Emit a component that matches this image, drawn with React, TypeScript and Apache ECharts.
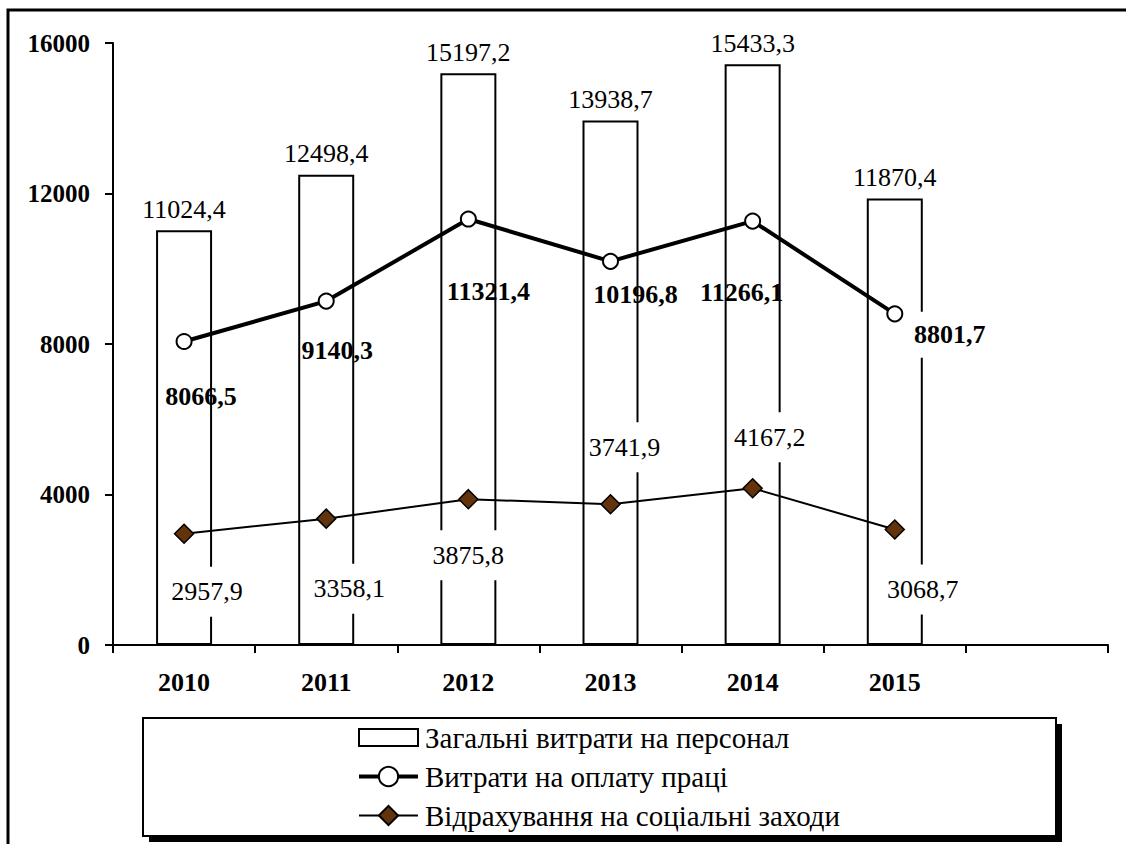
import React, { useEffect, useRef } from "react";
import * as echarts from "echarts";

// ---- data ----
const categories = ["2010", "2011", "2012", "2013", "2014", "2015", ""];
const seriesNames = [
  "Загальні витрати на персонал",
  "Витрати на оплату праці",
  "Відрахування на соціальні заходи",
];
const totalCosts = [11024.4, 12498.4, 15197.2, 13938.7, 15433.3, 11870.4];
const laborCosts = [8066.5, 9140.3, 11321.4, 10196.8, 11266.1, 8801.7];
const socialContrib = [2957.9, 3358.1, 3875.8, 3741.9, 4167.2, 3068.7];
const yTicks = [0, 4000, 8000, 12000, 16000];

// ---- label placement (style only) ----
const laborLabelOffsets = [
  [17, 55],
  [11, 49],
  [20, 72],
  [25, 33],
  [-11, 71],
  [55, 21],
];
const laborLabelBg = [false, false, false, false, false, true];
const socialLabelOffsets = [
  [23, 58],
  [23, 70],
  [0, 56],
  [14, -57],
  [17, -51],
  [28, 60],
];

const FONT = "Liberation Serif";
const fmt = (v: number) => v.toFixed(1).replace(".", ",");

export default function App() {
  const ref = useRef<HTMLDivElement>(null);

  useEffect(() => {
    if (!ref.current) return;
    const chart = echarts.init(ref.current, null, { renderer: "svg" });

    const laborData = laborCosts.map((v, i) => ({
      value: v,
      label: {
        show: true,
        position: "inside",
        offset: laborLabelOffsets[i],
        ...(laborLabelBg[i]
          ? { backgroundColor: "#fff", padding: [10, 2] }
          : {}),
      },
    }));
    const socialData = socialContrib.map((v, i) => ({
      value: v,
      label: {
        show: true,
        position: "inside",
        offset: socialLabelOffsets[i],
        backgroundColor: "#fff",
        padding: [12, 3],
      },
    }));

    const option: any = {
      animation: false,
      backgroundColor: "#fff",
      textStyle: { fontFamily: FONT, color: "#000" },
      grid: { left: 113, right: 18, top: 43, bottom: 199, containLabel: false },
      xAxis: {
        type: "category",
        data: categories,
        boundaryGap: true,
        axisLine: { show: true, lineStyle: { color: "#000", width: 2 } },
        axisTick: {
          show: true,
          inside: false,
          length: 8,
          interval: 0,
          lineStyle: { color: "#000", width: 2 },
        },
        axisLabel: {
          interval: 0,
          margin: 24,
          fontFamily: FONT,
          fontWeight: "bold",
          fontSize: 26,
          color: "#000",
        },
        splitLine: { show: false },
      },
      yAxis: {
        type: "value",
        min: yTicks[0],
        max: yTicks[yTicks.length - 1],
        interval: yTicks[1] - yTicks[0],
        axisLine: { show: true, lineStyle: { color: "#000", width: 2 } },
        axisTick: {
          show: true,
          inside: false,
          length: 8,
          lineStyle: { color: "#000", width: 2 },
        },
        axisLabel: {
          margin: 23,
          fontFamily: FONT,
          fontWeight: "bold",
          fontSize: 25,
          color: "#000",
          formatter: (v: number) => String(v),
        },
        splitLine: { show: false },
      },
      legend: {
        orient: "vertical",
        left: 357,
        top: 723,
        padding: 0,
        itemGap: 10,
        itemWidth: 59,
        itemHeight: 24,
        selectedMode: false,
        textStyle: { fontFamily: FONT, fontSize: 29, color: "#000", padding: [0, 0, 0, 2] },
        data: [
          { name: seriesNames[0], icon: "path://M0,0H59V17H0Z" },
          { name: seriesNames[1], lineStyle: { color: "#000", width: 4 } },
          { name: seriesNames[2], lineStyle: { color: "#000", width: 2 } },
        ],
      },
      graphic: [
        {
          type: "rect",
          z: 0,
          silent: true,
          shape: { x: 8, y: 10, width: 1300, height: 1000 },
          style: { fill: "none", stroke: "#000", lineWidth: 3 },
        },
        {
          type: "rect",
          z: 1,
          silent: true,
          shape: { x: 149, y: 724, width: 913, height: 118 },
          style: { fill: "#000", stroke: "none" },
        },
        {
          type: "rect",
          z: 1,
          silent: true,
          shape: { x: 143, y: 718, width: 913, height: 118 },
          style: { fill: "#fff", stroke: "#000", lineWidth: 2 },
        },
      ],
      series: [
        {
          name: seriesNames[0],
          type: "bar",
          data: totalCosts,
          barWidth: 56,
          itemStyle: { color: "#fff", borderColor: "#000", borderWidth: 2 },
          label: {
            show: true,
            position: "top",
            distance: 8,
            fontFamily: FONT,
            fontSize: 26,
            color: "#000",
            formatter: (p: any) => fmt(p.value),
          },
          z: 2,
        },
        {
          name: seriesNames[1],
          type: "line",
          data: laborData,
          symbol: "circle",
          symbolSize: 15,
          itemStyle: { color: "#fff", borderColor: "#000", borderWidth: 2 },
          lineStyle: { color: "#000", width: 4 },
          label: {
            show: true,
            fontFamily: FONT,
            fontSize: 26,
            fontWeight: "bold",
            color: "#000",
            formatter: (p: any) => fmt(p.value),
          },
          z: 3,
        },
        {
          name: seriesNames[2],
          type: "line",
          data: socialData,
          symbol: "diamond",
          symbolSize: 19,
          itemStyle: { color: "#63330b", borderColor: "#000", borderWidth: 1.5 },
          lineStyle: { color: "#000", width: 2 },
          label: {
            show: true,
            fontFamily: FONT,
            fontSize: 26,
            color: "#000",
            formatter: (p: any) => fmt(p.value),
          },
          z: 3,
        },
      ],
    };

    chart.setOption(option);
    return () => chart.dispose();
  }, []);

  return (
    <div
      ref={ref}
      style={{ position: "absolute", left: 0, top: 0, width: 1126, height: 844 }}
    />
  );
}
